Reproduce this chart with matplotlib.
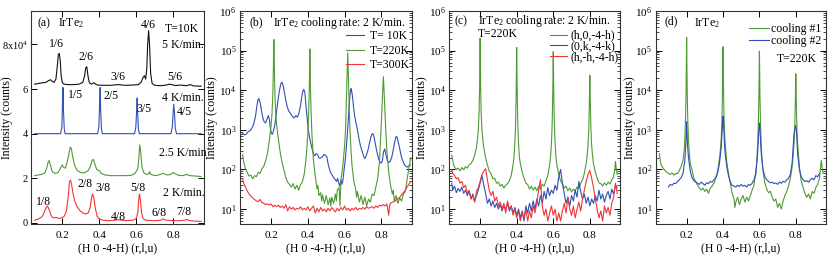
import numpy as np
import matplotlib
matplotlib.use("Agg")
import matplotlib.pyplot as plt

plt.rcParams['font.family'] = 'Liberation Serif'
plt.rcParams['mathtext.fontset'] = 'custom'
plt.rcParams['mathtext.rm'] = 'Liberation Serif'
plt.rcParams['mathtext.it'] = 'Liberation Serif:italic'
plt.rcParams['font.size'] = 8.5

BLUE = '#3050b4'
GREEN = '#4f9a35'
RED = '#ef3535'
BLACK = '#111111'
FS = 8.5

# ---------- panel (a): linear, units of 1e4 counts, curves offset ----------
a_5K = [(0.05, 6.22), (0.07, 6.25), (0.09, 6.28), (0.11, 6.3), (0.125, 6.38), (0.135, 6.42),
        (0.145, 6.35), (0.155, 6.3), (0.165, 6.45), (0.172, 7.0), (0.178, 7.55), (0.183, 7.6),
        (0.188, 7.3), (0.193, 6.6), (0.2, 6.28), (0.21, 6.22), (0.23, 6.2), (0.26, 6.2),
        (0.29, 6.22), (0.31, 6.3), (0.32, 6.6), (0.326, 6.95), (0.332, 7.0), (0.338, 6.6),
        (0.345, 6.3), (0.355, 6.22), (0.37, 6.28), (0.38, 6.22), (0.39, 6.18), (0.42, 6.17),
        (0.46, 6.17), (0.5, 6.2), (0.54, 6.17), (0.58, 6.18), (0.61, 6.2), (0.625, 6.3),
        (0.635, 6.5), (0.643, 6.6), (0.65, 6.45), (0.656, 6.9), (0.661, 8.0), (0.666, 8.62),
        (0.671, 8.0), (0.677, 6.7), (0.685, 6.25), (0.7, 6.17), (0.73, 6.15), (0.76, 6.18),
        (0.78, 6.22), (0.81, 6.16), (0.84, 6.18), (0.87, 6.15), (0.89, 6.2), (0.91, 6.14),
        (0.95, 6.13)]
a_4K = [(0.05, 4.0), (0.19, 4.0), (0.197, 4.3), (0.2, 5.2), (0.203, 6.07), (0.206, 5.0),
        (0.21, 4.2), (0.215, 4.0), (0.39, 4.0), (0.397, 4.3), (0.401, 5.3), (0.404, 6.07),
        (0.407, 5.0), (0.411, 4.2), (0.416, 4.0), (0.59, 4.0), (0.597, 4.3), (0.601, 5.0),
        (0.604, 5.6), (0.607, 4.9), (0.611, 4.2), (0.616, 4.0), (0.787, 4.0), (0.794, 4.3),
        (0.799, 5.0), (0.802, 5.32), (0.806, 4.9), (0.81, 4.25), (0.817, 4.0), (0.95, 4.0)]
a_25K = [(0.05, 2.12), (0.07, 2.15), (0.09, 2.18), (0.105, 2.25), (0.115, 2.45), (0.122, 2.7),
         (0.128, 2.8), (0.135, 2.6), (0.145, 2.3), (0.16, 2.22), (0.175, 2.25), (0.185, 2.38),
         (0.195, 2.55), (0.2, 2.6), (0.205, 2.5), (0.215, 2.45), (0.225, 2.7), (0.235, 3.1),
         (0.242, 3.4), (0.248, 3.35), (0.255, 3.0), (0.265, 2.6), (0.28, 2.35), (0.3, 2.25),
         (0.32, 2.25), (0.34, 2.35), (0.352, 2.55), (0.36, 2.8), (0.367, 2.85), (0.375, 2.65),
         (0.385, 2.4), (0.395, 2.35), (0.402, 2.33), (0.41, 2.22), (0.43, 2.15), (0.46, 2.12),
         (0.5, 2.12), (0.54, 2.12), (0.57, 2.13), (0.59, 2.2), (0.602, 2.35), (0.608, 2.45),
         (0.613, 2.9), (0.618, 3.5), (0.623, 3.2), (0.63, 2.5), (0.64, 2.25), (0.655, 2.17),
         (0.667, 2.2), (0.672, 2.3), (0.677, 2.18), (0.7, 2.12), (0.72, 2.15), (0.745, 2.22),
         (0.765, 2.15), (0.785, 2.17), (0.8, 2.27), (0.81, 2.2), (0.83, 2.13), (0.85, 2.12),
         (0.87, 2.17), (0.89, 2.12), (0.92, 2.1), (0.95, 2.08)]
a_2K = [(0.05, 0.12), (0.07, 0.18), (0.085, 0.25), (0.095, 0.35), (0.105, 0.55), (0.113, 0.72),
        (0.12, 0.75), (0.128, 0.6), (0.138, 0.35), (0.15, 0.22), (0.165, 0.25), (0.18, 0.2),
        (0.195, 0.22), (0.21, 0.3), (0.222, 0.55), (0.232, 1.2), (0.238, 1.85), (0.244, 1.92),
        (0.25, 1.7), (0.258, 1.3), (0.268, 0.95), (0.28, 0.72), (0.295, 0.55), (0.31, 0.45),
        (0.325, 0.4), (0.34, 0.45), (0.35, 0.7), (0.357, 1.1), (0.363, 1.3), (0.37, 1.15),
        (0.378, 0.65), (0.388, 0.3), (0.4, 0.18), (0.42, 0.12), (0.45, 0.1), (0.48, 0.12),
        (0.5, 0.15), (0.52, 0.12), (0.55, 0.1), (0.58, 0.12), (0.6, 0.2), (0.608, 0.5),
        (0.613, 1.1), (0.617, 1.3), (0.622, 1.0), (0.628, 0.45), (0.636, 0.2), (0.65, 0.12),
        (0.7, 0.1), (0.73, 0.12), (0.745, 0.18), (0.76, 0.12), (0.8, 0.1), (0.84, 0.1),
        (0.865, 0.13), (0.875, 0.15), (0.89, 0.1), (0.92, 0.08), (0.95, 0.07)]

# labels of panel (a): text, x, y (data units)
a_labels = [("1/6", 0.17, 8.0), ("2/6", 0.327, 7.43), ("3/6", 0.5, 6.53), ("4/6", 0.664, 8.86),
            ("5/6", 0.808, 6.53), ("1/5", 0.273, 5.73), ("2/5", 0.462, 5.68), ("3/5", 0.64, 5.1),
            ("4/5", 0.857, 4.98), ("1/8", 0.1, 0.94), ("2/8", 0.322, 1.74), ("3/8", 0.418, 1.56),
            ("4/8", 0.5, 0.27), ("5/8", 0.608, 1.56), ("6/8", 0.72, 0.45), ("7/8", 0.857, 0.49),
            ("T=10K", 0.846, 8.71), ("5 K/min.", 0.851, 7.96), ("4 K/min.", 0.851, 5.58),
            ("2.5 K/min", 0.851, 3.13), ("2 K/min.", 0.857, 1.34)]

# ---------- panel (b): cooling 2 K/min, three temperatures ----------
b_10K = [(0.045, 800), (0.055, 750), (0.065, 780), (0.075, 900), (0.085, 950), (0.095, 1100),
         (0.105, 1400), (0.115, 2200), (0.122, 3800), (0.128, 5600), (0.133, 6200), (0.14, 5000),
         (0.148, 3000), (0.155, 2000), (0.162, 1600), (0.17, 1500), (0.178, 1900), (0.185, 2300),
         (0.19, 1900), (0.196, 1100), (0.202, 800), (0.208, 780), (0.214, 1000), (0.22, 1300),
         (0.228, 2500), (0.236, 5000), (0.244, 9000), (0.252, 14000), (0.258, 16000),
         (0.265, 13500), (0.272, 9000), (0.28, 5500), (0.288, 3800), (0.296, 3000), (0.305, 2600),
         (0.315, 2200), (0.325, 2000), (0.335, 2300), (0.343, 2100), (0.35, 2500), (0.358, 3600),
         (0.366, 6500), (0.373, 9500), (0.378, 10500), (0.384, 8500), (0.39, 4000), (0.397, 1800),
         (0.404, 900), (0.412, 550), (0.42, 380), (0.428, 270), (0.436, 220), (0.444, 250),
         (0.452, 240), (0.46, 200), (0.466, 190), (0.472, 200), (0.48, 210), (0.488, 240),
         (0.496, 230), (0.503, 210), (0.51, 140), (0.518, 100), (0.526, 80), (0.534, 70),
         (0.542, 60), (0.55, 55), (0.556, 50), (0.562, 60), (0.568, 45), (0.574, 38), (0.58, 55),
         (0.585, 42), (0.59, 50), (0.596, 90), (0.602, 150), (0.608, 300), (0.614, 700),
         (0.62, 1800), (0.626, 5000), (0.632, 10000), (0.636, 11000), (0.642, 7500),
         (0.648, 4000), (0.655, 2200), (0.662, 1500), (0.67, 1000), (0.678, 600), (0.686, 400),
         (0.694, 300), (0.702, 230), (0.708, 190), (0.714, 200), (0.72, 240), (0.728, 320),
         (0.736, 480), (0.744, 680), (0.75, 800), (0.756, 780), (0.762, 600), (0.77, 380),
         (0.778, 250), (0.786, 180), (0.794, 150), (0.8, 145), (0.806, 170), (0.812, 280),
         (0.818, 330), (0.824, 250), (0.832, 170), (0.84, 150), (0.848, 160), (0.856, 200),
         (0.864, 300), (0.872, 480), (0.88, 680), (0.886, 650), (0.894, 450), (0.902, 300),
         (0.91, 200), (0.918, 160), (0.926, 130), (0.934, 120), (0.942, 115), (0.95, 125),
         (0.958, 130)]
b_220K = [(0.045, 240), (0.05, 160), (0.06, 105), (0.07, 85), (0.08, 68), (0.09, 72), (0.1, 58),
          (0.11, 70), (0.12, 66), (0.13, 85), (0.14, 80), (0.15, 105), (0.16, 120), (0.17, 165),
          (0.18, 250), (0.19, 520), (0.2, 1300), (0.205, 2600), (0.209, 7000), (0.212, 30000),
          (0.215, 190000), (0.218, 30000), (0.221, 7000), (0.225, 2600), (0.23, 1300),
          (0.24, 560), (0.25, 260), (0.26, 150), (0.27, 95), (0.28, 62), (0.29, 48), (0.3, 42),
          (0.31, 36), (0.32, 44), (0.33, 32), (0.34, 40), (0.35, 30), (0.36, 42), (0.37, 48),
          (0.38, 75), (0.39, 180), (0.4, 800), (0.404, 2500), (0.408, 12000), (0.411, 110000),
          (0.414, 12000), (0.418, 2500), (0.422, 800), (0.43, 180), (0.44, 70), (0.45, 32),
          (0.455, 40), (0.46, 22), (0.47, 26), (0.475, 16), (0.48, 23), (0.49, 14), (0.5, 22),
          (0.51, 13), (0.52, 19), (0.525, 12), (0.53, 20), (0.54, 14), (0.55, 24), (0.555, 16),
          (0.56, 30), (0.57, 35), (0.575, 12), (0.58, 55), (0.59, 120), (0.6, 400), (0.605, 1000),
          (0.609, 4000), (0.613, 20000), (0.617, 88000), (0.621, 20000), (0.625, 4000),
          (0.629, 1000), (0.635, 300), (0.64, 130), (0.65, 50), (0.66, 32), (0.665, 20),
          (0.67, 28), (0.68, 15), (0.69, 22), (0.7, 13), (0.71, 20), (0.72, 12), (0.73, 18),
          (0.74, 15), (0.75, 24), (0.76, 22), (0.77, 36), (0.78, 60), (0.79, 160), (0.797, 800),
          (0.802, 2500), (0.807, 9000), (0.811, 22000), (0.815, 9000), (0.82, 2500),
          (0.825, 800), (0.83, 300), (0.84, 85), (0.85, 40), (0.86, 24), (0.865, 30), (0.87, 16),
          (0.88, 22), (0.89, 14), (0.9, 19), (0.91, 16), (0.92, 24), (0.93, 28), (0.94, 55),
          (0.95, 110), (0.96, 200)]
b_300K = [(0.045, 58), (0.05, 46), (0.06, 36), (0.07, 29), (0.08, 24), (0.09, 21), (0.1, 19),
          (0.11, 17.5), (0.12, 16), (0.13, 15.5), (0.14, 17.5), (0.15, 14.5), (0.16, 14),
          (0.17, 13), (0.18, 13.5), (0.19, 12.5), (0.2, 13.5), (0.21, 11.5), (0.22, 12.5),
          (0.23, 11.5), (0.24, 12.5), (0.25, 11), (0.26, 12), (0.27, 10.5), (0.28, 13), (0.29, 9),
          (0.3, 11.5), (0.31, 10), (0.32, 11), (0.33, 9.5), (0.34, 10.5), (0.35, 10), (0.36, 11.5),
          (0.37, 9.5), (0.38, 10.5), (0.39, 9.5), (0.4, 11.5), (0.41, 9), (0.42, 10.5), (0.43, 12),
          (0.44, 8), (0.45, 10.5), (0.46, 8.5), (0.47, 11), (0.48, 9), (0.49, 10), (0.5, 8.5),
          (0.51, 10.5), (0.52, 9), (0.53, 11), (0.54, 9.5), (0.55, 8.5), (0.56, 10.5), (0.57, 9),
          (0.58, 11), (0.59, 9.5), (0.6, 12), (0.61, 9.5), (0.62, 10.5), (0.63, 9), (0.64, 10.5),
          (0.65, 9.5), (0.66, 11), (0.67, 9.5), (0.68, 10.5), (0.69, 10), (0.7, 11), (0.71, 10),
          (0.72, 11.5), (0.73, 10.5), (0.74, 11), (0.75, 11.5), (0.76, 10.5), (0.77, 12),
          (0.78, 11), (0.79, 12.5), (0.8, 12), (0.81, 13), (0.82, 12), (0.83, 13.5), (0.84, 7),
          (0.845, 12.5), (0.85, 14), (0.86, 15), (0.87, 15.5), (0.88, 17), (0.89, 18), (0.9, 20),
          (0.91, 23), (0.92, 26), (0.93, 30), (0.94, 36), (0.95, 43), (0.96, 50)]

# ---------- panel (c): T=220K, three directions ----------
c_h0 = [(0.045, 230), (0.05, 170), (0.055, 130), (0.06, 115), (0.07, 100), (0.08, 108), (0.09, 92),
        (0.1, 112), (0.11, 98), (0.12, 118), (0.13, 108), (0.14, 132), (0.15, 140), (0.16, 170),
        (0.17, 230), (0.18, 360), (0.185, 550), (0.19, 1000), (0.194, 2500), (0.197, 10000),
        (0.2, 205000), (0.203, 10000), (0.206, 2500), (0.21, 1000), (0.215, 550), (0.22, 360),
        (0.23, 200), (0.24, 130), (0.25, 90), (0.26, 78), (0.27, 58), (0.28, 60), (0.29, 45),
        (0.3, 48), (0.31, 38), (0.32, 42), (0.33, 34), (0.34, 40), (0.35, 44), (0.36, 52),
        (0.37, 70), (0.38, 130), (0.385, 200), (0.39, 450), (0.394, 1500), (0.397, 8000),
        (0.4, 120000), (0.403, 8000), (0.406, 1500), (0.41, 450), (0.415, 200), (0.42, 140),
        (0.43, 85), (0.44, 60), (0.45, 45), (0.46, 42), (0.47, 32), (0.48, 38), (0.49, 30),
        (0.5, 36), (0.51, 29), (0.52, 38), (0.53, 32), (0.54, 42), (0.55, 38), (0.56, 52),
        (0.57, 70), (0.58, 130), (0.585, 200), (0.59, 450), (0.594, 1400), (0.597, 7000),
        (0.6, 94000), (0.603, 7000), (0.606, 1400), (0.61, 450), (0.615, 200), (0.62, 130),
        (0.63, 75), (0.64, 52), (0.65, 44), (0.66, 34), (0.67, 38), (0.68, 29), (0.69, 34),
        (0.7, 27), (0.71, 32), (0.72, 29), (0.73, 36), (0.74, 33), (0.75, 45), (0.76, 55),
        (0.77, 80), (0.78, 140), (0.785, 220), (0.79, 400), (0.794, 1000), (0.797, 4000),
        (0.8, 24000), (0.803, 4000), (0.806, 1000), (0.81, 400), (0.815, 220), (0.82, 140),
        (0.83, 85), (0.84, 60), (0.85, 46), (0.86, 44), (0.87, 38), (0.88, 46), (0.89, 40),
        (0.9, 48), (0.91, 43), (0.92, 55), (0.93, 65), (0.935, 90), (0.94, 160), (0.945, 100),
        (0.95, 75)]
c_0k = [(0.045, 45), (0.05, 30), (0.06, 38), (0.07, 26), (0.08, 33), (0.09, 28), (0.1, 36),
        (0.11, 25), (0.12, 30), (0.13, 22), (0.14, 28), (0.15, 18), (0.16, 24), (0.17, 16),
        (0.18, 22), (0.19, 30), (0.2, 45), (0.21, 70), (0.22, 40), (0.23, 25), (0.24, 14),
        (0.25, 18), (0.26, 12), (0.27, 16), (0.28, 11), (0.29, 14), (0.3, 10), (0.31, 13),
        (0.32, 9), (0.33, 12), (0.34, 10), (0.35, 14), (0.36, 9), (0.37, 12), (0.38, 8),
        (0.39, 11), (0.4, 7), (0.41, 10), (0.42, 6), (0.43, 9), (0.44, 5), (0.45, 12), (0.46, 8),
        (0.47, 14), (0.48, 9), (0.49, 16), (0.5, 10), (0.51, 18), (0.52, 12), (0.53, 22),
        (0.54, 14), (0.55, 28), (0.56, 18), (0.57, 35), (0.58, 22), (0.59, 30), (0.6, 25),
        (0.61, 40), (0.62, 30), (0.63, 65), (0.64, 100), (0.65, 45), (0.66, 25), (0.67, 14),
        (0.68, 20), (0.69, 12), (0.7, 22), (0.71, 16), (0.72, 30), (0.73, 20), (0.74, 50),
        (0.75, 28), (0.76, 18), (0.77, 24), (0.78, 14), (0.79, 20), (0.8, 12), (0.81, 18),
        (0.82, 14), (0.83, 22), (0.84, 16), (0.85, 30), (0.86, 18), (0.87, 24), (0.88, 15),
        (0.89, 22), (0.9, 28), (0.91, 18), (0.92, 32), (0.93, 24), (0.94, 40), (0.95, 35)]
c_hh = [(0.045, 100), (0.05, 80), (0.06, 70), (0.07, 58), (0.08, 62), (0.09, 45), (0.1, 50),
        (0.11, 35), (0.12, 40), (0.13, 25), (0.14, 30), (0.15, 18), (0.16, 22), (0.17, 15),
        (0.18, 28), (0.19, 35), (0.2, 50), (0.21, 75), (0.22, 90), (0.23, 105), (0.24, 55),
        (0.25, 30), (0.26, 22), (0.27, 28), (0.28, 16), (0.29, 20), (0.3, 12), (0.31, 15),
        (0.32, 10), (0.33, 14), (0.34, 8), (0.35, 16), (0.36, 10), (0.37, 12), (0.38, 7),
        (0.39, 10), (0.4, 6), (0.41, 9), (0.42, 5), (0.43, 8), (0.44, 6), (0.45, 10), (0.46, 5),
        (0.47, 9), (0.48, 6), (0.49, 12), (0.5, 8), (0.51, 15), (0.52, 30), (0.53, 55), (0.54, 12),
        (0.55, 7), (0.56, 10), (0.57, 5), (0.58, 8), (0.59, 12), (0.6, 7), (0.61, 10), (0.62, 5),
        (0.63, 8), (0.64, 5), (0.65, 9), (0.66, 14), (0.67, 8), (0.68, 20), (0.69, 10), (0.7, 7),
        (0.71, 12), (0.72, 6), (0.73, 10), (0.74, 15), (0.75, 9), (0.76, 18), (0.77, 30),
        (0.78, 50), (0.79, 75), (0.8, 95), (0.81, 60), (0.82, 35), (0.83, 18), (0.84, 10),
        (0.85, 6), (0.86, 9), (0.87, 5), (0.88, 12), (0.89, 8), (0.9, 11), (0.91, 7), (0.92, 14),
        (0.93, 20), (0.94, 45), (0.95, 25)]

# ---------- panel (d): T=220K, two coolings ----------
d_cool1 = [(0.05, 250), (0.055, 170), (0.06, 130), (0.07, 110), (0.08, 95), (0.09, 85), (0.1, 80),
           (0.11, 75), (0.12, 82), (0.13, 72), (0.14, 80), (0.15, 78), (0.16, 95), (0.17, 120),
           (0.18, 170), (0.185, 260), (0.19, 550), (0.194, 2000), (0.197, 10000), (0.2, 215000),
           (0.203, 10000), (0.206, 2000), (0.21, 550), (0.215, 240), (0.22, 140), (0.23, 95),
           (0.24, 60), (0.25, 50), (0.26, 40), (0.27, 35), (0.28, 30), (0.29, 34), (0.3, 28),
           (0.31, 32), (0.32, 25), (0.33, 34), (0.34, 38), (0.35, 45), (0.36, 60), (0.37, 90),
           (0.38, 180), (0.385, 300), (0.39, 600), (0.394, 1800), (0.397, 9000), (0.4, 125000),
           (0.403, 9000), (0.406, 1800), (0.41, 600), (0.415, 300), (0.42, 160), (0.43, 80),
           (0.44, 45), (0.45, 25), (0.46, 18), (0.465, 11), (0.47, 15), (0.48, 20), (0.49, 13),
           (0.5, 18), (0.51, 22), (0.52, 15), (0.53, 20), (0.54, 16), (0.55, 22), (0.56, 30),
           (0.57, 40), (0.58, 90), (0.585, 150), (0.59, 400), (0.594, 1400), (0.597, 7000),
           (0.6, 97000), (0.603, 7000), (0.606, 1400), (0.61, 400), (0.615, 150), (0.62, 90),
           (0.63, 45), (0.64, 32), (0.65, 26), (0.66, 28), (0.67, 20), (0.68, 16), (0.69, 18),
           (0.7, 11), (0.71, 14), (0.72, 10), (0.73, 16), (0.74, 22), (0.75, 28), (0.76, 38),
           (0.77, 60), (0.78, 120), (0.785, 220), (0.79, 450), (0.794, 1100), (0.797, 4500),
           (0.8, 26000), (0.803, 4500), (0.806, 1100), (0.81, 450), (0.815, 220), (0.82, 110),
           (0.83, 50), (0.84, 35), (0.85, 25), (0.86, 20), (0.87, 24), (0.88, 18), (0.89, 28),
           (0.9, 25), (0.91, 35), (0.92, 42), (0.93, 60), (0.94, 170), (0.945, 110), (0.95, 80)]
d_cool2 = [(0.1, 36), (0.11, 42), (0.12, 40), (0.13, 45), (0.14, 44), (0.15, 50), (0.16, 55),
           (0.17, 62), (0.18, 80), (0.19, 170), (0.195, 400), (0.198, 900), (0.2, 1600),
           (0.202, 900), (0.205, 400), (0.21, 200), (0.22, 90), (0.23, 62), (0.24, 52), (0.25, 48),
           (0.26, 45), (0.27, 42), (0.28, 48), (0.29, 44), (0.3, 40), (0.31, 46), (0.32, 44),
           (0.33, 50), (0.34, 48), (0.35, 55), (0.36, 62), (0.37, 80), (0.38, 140), (0.39, 350),
           (0.395, 900), (0.398, 1600), (0.4, 2200), (0.402, 1600), (0.405, 900), (0.41, 300),
           (0.42, 120), (0.43, 70), (0.44, 48), (0.45, 40), (0.46, 38), (0.47, 36), (0.48, 40),
           (0.49, 37), (0.5, 42), (0.51, 38), (0.52, 40), (0.53, 36), (0.54, 42), (0.55, 40),
           (0.56, 45), (0.57, 55), (0.58, 75), (0.59, 250), (0.595, 700), (0.598, 1200),
           (0.6, 1500), (0.602, 1200), (0.605, 700), (0.61, 250), (0.62, 100), (0.63, 65),
           (0.64, 55), (0.65, 50), (0.66, 46), (0.67, 48), (0.68, 44), (0.69, 46), (0.7, 42),
           (0.71, 48), (0.72, 45), (0.73, 50), (0.74, 48), (0.75, 55), (0.76, 60), (0.77, 75),
           (0.78, 150), (0.785, 350), (0.79, 800), (0.795, 1100), (0.8, 1300), (0.805, 700),
           (0.81, 250), (0.82, 100), (0.83, 65), (0.84, 55), (0.85, 50), (0.86, 52), (0.87, 48),
           (0.88, 55), (0.89, 60), (0.9, 55), (0.91, 70), (0.92, 65), (0.93, 80)]

x_ticks = [0.2, 0.4, 0.6, 0.8]
xlabel = "(H 0 -4-H) (r,l,u)"
ylabel = "Intensity (counts)"


def draw(ax, pairs, color, label=None):
    xy = np.array(pairs)
    ax.plot(xy[:, 0], xy[:, 1], color=color, lw=0.8, label=label)


def style(ax, ylab_x):
    ax.set_xlim(0.03, 0.965)
    ax.set_xticks(x_ticks)
    ax.set_xticklabels(["0.2", "0.4", "0.6", "0.8"])
    ax.tick_params(which='both', direction='in', top=True, right=True)
    ax.tick_params(which='major', length=4, width=0.7, labelsize=8)
    ax.tick_params(which='minor', length=2, width=0.5)
    ax.tick_params(axis='x', which='minor', bottom=False, top=False)
    ax.tick_params(axis='x', pad=5)
    ax.tick_params(axis='y', pad=2.5)
    for s in ax.spines.values():
        s.set_linewidth(0.8)
        s.set_color('#333333')
    ax.set_xlabel(xlabel, fontsize=FS)
    ax.set_ylabel(ylabel, fontsize=FS)
    ax.xaxis.set_label_coords(0.5, -0.085)
    ax.yaxis.set_label_coords(ylab_x, 0.5)


fig = plt.figure(figsize=(8.3, 2.59), dpi=100)
axa = fig.add_axes([0.0373, 0.135, 0.2084, 0.8225])
axb = fig.add_axes([0.289, 0.135, 0.207, 0.8225])
axc = fig.add_axes([0.541, 0.135, 0.206, 0.8225])
axd = fig.add_axes([0.790, 0.135, 0.205, 0.8225])

# (a)
draw(axa, a_5K, BLACK)
draw(axa, a_4K, BLUE)
draw(axa, a_25K, GREEN)
draw(axa, a_2K, RED)
style(axa, -0.105)
axa.set_ylim(-0.05, 9.5)
axa.set_yticks([0, 2, 4, 6, 8])
axa.set_yticklabels(["0", "2", "4", "6", "8x10$^4$"])
axa.tick_params(axis='y', labelsize=7.5, pad=2)
for txt, x, y in a_labels:
    axa.text(x, y, txt, ha='center', va='center', fontsize=FS)
axa.text(0.067, 8.95, "(a)", ha='left', va='center', fontsize=FS)
axa.text(0.176, 8.95, "IrTe$_2$", ha='left', va='center', fontsize=FS)

# (b)
draw(axb, b_10K, BLUE, "T= 10K")
draw(axb, b_220K, GREEN, "T=220K")
draw(axb, b_300K, RED, "T=300K")
axb.set_yscale('log')
axb.set_ylim(4.2, 1e6)
style(axb, -0.13)
axb.text(0.058, 0.945, "(b)", transform=axb.transAxes, ha='left', va='center', fontsize=FS)
axb.text(0.19, 0.945, "IrTe$_2$ cooling rate: 2 K/min.", transform=axb.transAxes,
         ha='left', va='center', fontsize=FS)
axb.legend(loc='upper right', bbox_to_anchor=(0.99, 0.91), frameon=False, fontsize=FS,
           handlelength=1.5, handletextpad=0.5, labelspacing=0.22, borderpad=0,
           borderaxespad=0)

# (c)
draw(axc, c_h0, GREEN, "(h,0,-4-h)")
draw(axc, c_0k, BLUE, "(0,k,-4-k)")
draw(axc, c_hh, RED, "(h,-h,-4-h)")
axc.set_yscale('log')
axc.set_ylim(4.2, 1e6)
style(axc, -0.125)
axc.text(0.03, 0.952, "(c)", transform=axc.transAxes, ha='left', va='center', fontsize=FS)
axc.text(0.171, 0.952, "IrTe$_2$ cooling rate: 2 K/min.", transform=axc.transAxes,
         ha='left', va='center', fontsize=FS)
axc.text(0.171, 0.892, "T=220K", transform=axc.transAxes, ha='left', va='center', fontsize=FS)
axc.legend(loc='upper right', bbox_to_anchor=(0.99, 0.912), frameon=False, fontsize=FS,
           handlelength=1.45, handletextpad=0.25, labelspacing=-0.12, borderpad=0,
           borderaxespad=0)

# (d)
draw(axd, d_cool1, GREEN, "cooling #1")
draw(axd, d_cool2, BLUE, "cooling #2")
axd.set_yscale('log')
axd.set_ylim(4.2, 1e6)
style(axd, -0.115)
axd.text(0.053, 0.95, "(d)", transform=axd.transAxes, ha='left', va='center', fontsize=FS)
axd.text(0.224, 0.945, "IrTe$_2$", transform=axd.transAxes, ha='left', va='center', fontsize=FS)
axd.text(0.71, 0.773, "T=220K", transform=axd.transAxes, ha='left', va='center', fontsize=FS)
axd.legend(loc='upper right', bbox_to_anchor=(0.975, 0.945), frameon=False, fontsize=FS,
           handlelength=1.7, handletextpad=0.2, labelspacing=0.0, borderpad=0,
           borderaxespad=0)

fig.savefig("out.png", dpi=100)
